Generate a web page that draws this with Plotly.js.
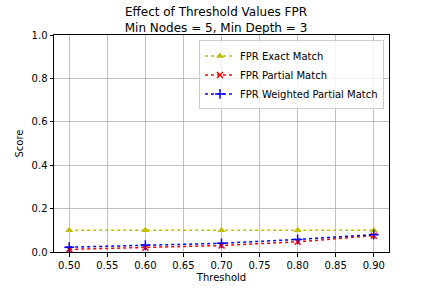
<!DOCTYPE html>
<html><head><meta charset="utf-8">
<script src="https://cdn.plot.ly/plotly-3.0.1.min.js"></script>
<style>body{margin:0;padding:0;}#plot{width:432px;height:288px;}</style>
</head><body><div id="plot"></div>
<script>
const thresholds = [0.5, 0.6, 0.7, 0.8, 0.9];
const fprExact = [0.1, 0.1, 0.1, 0.1, 0.1];
const fprPartial = [0.012, 0.02, 0.03, 0.047, 0.075];
const fprWeighted = [0.022, 0.032, 0.04, 0.058, 0.08];
const xTickVals = [0.5, 0.55, 0.6, 0.65, 0.7, 0.75, 0.8, 0.85, 0.9];
const xTickText = ['0.50','0.55','0.60','0.65','0.70','0.75','0.80','0.85','0.90'];
const yTickVals = [0, 0.2, 0.4, 0.6, 0.8, 1.0];
const yTickText = ['0.0','0.2','0.4','0.6','0.8','1.0'];

const traces = [
  {x: thresholds, y: fprExact, name: 'FPR Exact Match', mode: 'lines+markers',
   line: {color: '#bfbf00', dash: 'dot', width: 1.5},
   marker: {symbol: 'triangle-up', size: 7, color: '#bfbf00'}},
  {x: thresholds, y: fprPartial, name: 'FPR Partial Match', mode: 'lines+markers',
   line: {color: '#ff0000', dash: 'dot', width: 1.5},
   marker: {symbol: 'x-thin-open', size: 6, color: '#ff0000', line: {width: 1.5, color: '#ff0000'}}},
  {x: thresholds, y: fprWeighted, name: 'FPR Weighted Partial Match', mode: 'lines+markers',
   line: {color: '#0000ff', dash: 'dot', width: 1.5},
   marker: {symbol: 'cross-thin-open', size: 7, color: '#0000ff', line: {width: 1.5, color: '#0000ff'}}}
];

const layout = {
  width: 432, height: 288,
  margin: {l: 54, r: 43, t: 35, b: 36},
  paper_bgcolor: 'white', plot_bgcolor: 'white',
  font: {family: 'DejaVu Sans', size: 10, color: 'black'},
  title: {text: 'Effect of Threshold Values FPR<br>Min Nodes = 5, Min Depth = 3',
          font: {size: 12}, x: 0.5, xanchor: 'center', yref: 'container', y: 1 - 16/288, yanchor: 'bottom'},
  xaxis: {range: [0.48, 0.92], tickvals: xTickVals, ticktext: xTickText,
          showgrid: true, gridcolor: '#b0b0b0', gridwidth: 0.8,
          showline: true, linecolor: 'black', linewidth: 1, mirror: true,
          ticks: 'outside', ticklen: 3.5, tickcolor: 'black', zeroline: false,
          title: {text: 'Threshold', font: {size: 10}, standoff: 4}},
  yaxis: {range: [0, 1], tickvals: yTickVals, ticktext: yTickText,
          showgrid: true, gridcolor: '#b0b0b0', gridwidth: 0.8,
          showline: true, linecolor: 'black', linewidth: 1, mirror: true,
          ticks: 'outside', ticklen: 3.5, tickcolor: 'black', zeroline: false,
          title: {text: 'Score', font: {size: 10}, standoff: 6}},
  legend: {x: 0.985, y: 0.975, xanchor: 'right', yanchor: 'top',
           bgcolor: 'rgba(255,255,255,0.8)', bordercolor: '#cccccc', borderwidth: 1,
           font: {size: 10}, tracegroupgap: 0, itemwidth: 30},
  showlegend: true
};
Plotly.newPlot('plot', traces, layout, {displayModeBar: false, staticPlot: true});
</script></body></html>
